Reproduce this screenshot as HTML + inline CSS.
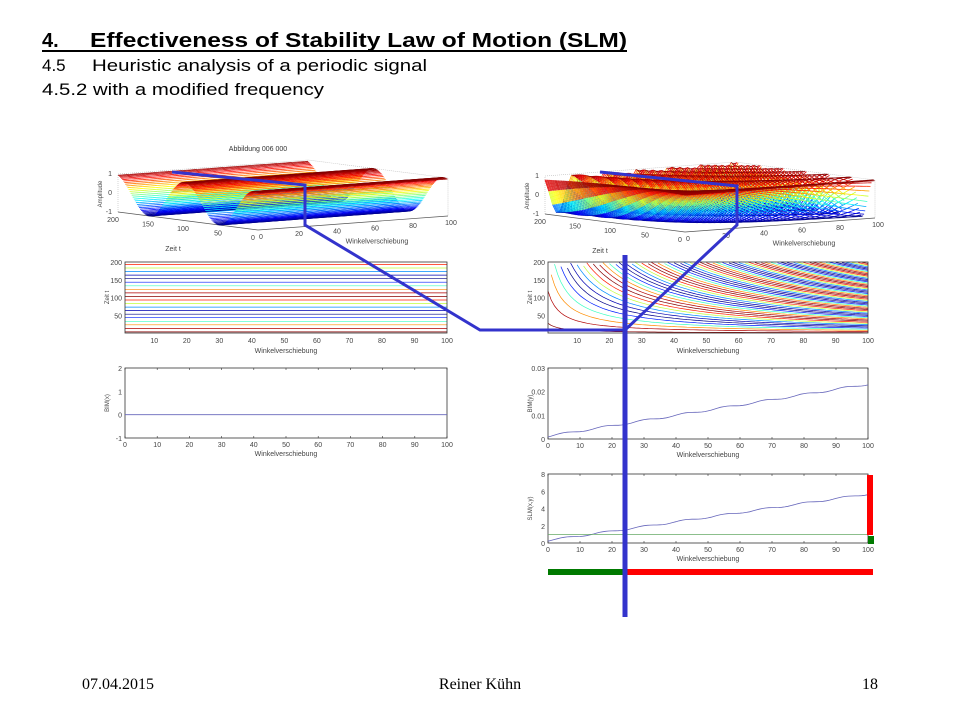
<!DOCTYPE html>
<html><head><meta charset="utf-8"><style>
body{margin:0;background:#fff;width:960px;height:720px;overflow:hidden}
svg{display:block}
.s{font-family:"Liberation Sans",Arial,sans-serif}
.f{font-family:"Liberation Serif",serif;font-size:16px}
</style></head><body>
<svg id="s" width="960" height="720" xmlns="http://www.w3.org/2000/svg">
<rect width="960" height="720" fill="#fff"/>
<g class="s">
<text x="42" y="47" font-size="20" font-weight="bold">4.</text>
<text x="90" y="47" font-size="20" font-weight="bold" textLength="537" lengthAdjust="spacingAndGlyphs">Effectiveness of Stability Law of Motion (SLM)</text>
<rect x="42" y="50" width="585" height="2" fill="#000"/>
<text x="42" y="71" font-size="17">4.5</text>
<text x="92" y="71" font-size="17" textLength="335" lengthAdjust="spacingAndGlyphs">Heuristic analysis of a periodic signal</text>
<text x="42" y="95" font-size="17" textLength="282" lengthAdjust="spacingAndGlyphs">4.5.2 with a modified frequency</text>
<text x="258" y="151" font-size="7" fill="#333" text-anchor="middle">Abbildung 006 000</text>
<g id="g"></g>
</g>
<text class="f" x="82" y="689">07.04.2015</text>
<text class="f" x="480" y="689" text-anchor="middle">Reiner Kühn</text>
<text class="f" x="862" y="689">18</text>
</svg>
<script>
var g=document.getElementById('g'),h=[];
function jet(v){v=Math.max(0,Math.min(1,v));function c(x){return Math.round(255*Math.max(0,Math.min(1,1.5-Math.abs(4*v-x))))}return 'rgb('+c(3)+','+c(2)+','+c(1)+')';}
function L(x1,y1,x2,y2,col,w){h.push('<line x1="'+x1.toFixed(1)+'" y1="'+y1.toFixed(1)+'" x2="'+x2.toFixed(1)+'" y2="'+y2.toFixed(1)+'" stroke="'+col+'" stroke-width="'+(w||1)+'"/>');}
function T(x,y,s,a,sz,rot){h.push('<text x="'+x+'" y="'+y+'" font-size="'+(sz||7)+'" fill="#444" text-anchor="'+(a||'middle')+'"'+(rot?' transform="rotate(-90 '+x+' '+y+')"':'')+'>'+s+'</text>');}
function surf(ox,oy,fr){
 function P(x,t,z){return [ox+1.9*x-0.7*t, oy-0.14*x-0.09*t-19*(z+1)];}
 var a=P(0,200,1),b=P(100,200,1),c=P(100,0,1);
 h.push('<polyline points="'+P(0,200,-1)+' '+a+' '+b+' '+c+' '+P(100,0,-1)+'" fill="none" stroke="#bbb" stroke-width="0.6" stroke-dasharray="1,1"/>');
 L(P(0,200,-1)[0],P(0,200,-1)[1],P(0,0,-1)[0],P(0,0,-1)[1],'#555',0.7);
 L(P(0,0,-1)[0],P(0,0,-1)[1],P(100,0,-1)[0],P(100,0,-1)[1],'#555',0.7);
 for(var t=200;t>=0;t-=1.5){
  for(var x=0;x<100;x+=2){
   var z=Math.sin(2*Math.PI*t*fr(x)+1.2);
   var p=P(x,t,z),q=P(x+2,t,Math.sin(2*Math.PI*t*fr(x+2)+1.2));
   L(p[0],p[1],q[0],q[1],jet((z+1)/2),0.8);
  }
 }
 var o=P(0,200,-1);T(o[0]-6,o[1]-36,'1','end');T(o[0]-6,o[1]-17,'0','end');T(o[0]-6,o[1]+2,'-1','end');
 T(o[0]-16,o[1]-18,'Amplitude','middle',6,1);
 [0,50,100,150,200].forEach(function(v){var p=P(0,v,-1);T(p[0]-5,p[1]+10,v);});
 [0,20,40,60,80,100].forEach(function(v){var p=P(v,0,-1);T(p[0]+3,p[1]+9,v);});
 var z1=P(0,100,-1);T(z1[0]-15,z1[1]+30,'Zeit t');var w=P(60,0,-1);T(w[0]+5,w[1]+22,'Winkelverschiebung');
}
function f2(x){return 0.0008+0.0003*x;}
surf(258,230,function(x){return 1/100});
surf(685,232,f2);
function contour(x0,y0,x1,y1,fr){
 h.push('<rect x="'+x0+'" y="'+y0+'" width="'+(x1-x0)+'" height="'+(y1-y0)+'" fill="#fff"/>');
 var sx=(x1-x0)/99,sy=(y1-y0)/200;
 for(var p=0.03;p<8;p+=0.1){
  var col=jet((Math.sin(2*Math.PI*p+1.2)+1)/2),pts=[];
  for(var x=1;x<=100;x+=1){var t=p/fr(x);if(t>200)continue;pts.push((x0+(x-1)*sx).toFixed(1)+','+(y1-t*sy).toFixed(1));}
  if(pts.length>1)h.push('<polyline points="'+pts.join(' ')+'" fill="none" stroke="'+col+'" stroke-width="0.7"/>');
 }
 h.push('<rect x="'+x0+'" y="'+y0+'" width="'+(x1-x0)+'" height="'+(y1-y0)+'" fill="none" stroke="#333" stroke-width="0.8"/>');
 for(var v=10;v<=100;v+=10){var X=x0+(v-1)*sx;T(X,y1+10,v);}
 [50,100,150,200].forEach(function(v){T(x0-3,y1-v*sy+3,v,'end');});
 T(x0-16,(y0+y1)/2,'Zeit t','middle',6,1);T((x0+x1)/2,y1+20,'Winkelverschiebung');
}
contour(125,262,447,333,function(x){return 1/100});
contour(548,262,868,333,f2);
function plot(x0,y0,x1,y1,ymin,ymax,yt,lab,fn,extra){
 h.push('<rect x="'+x0+'" y="'+y0+'" width="'+(x1-x0)+'" height="'+(y1-y0)+'" fill="#fff" stroke="#333" stroke-width="0.8"/>');
 function Y(v){return y1-(v-ymin)/(ymax-ymin)*(y1-y0);}
 for(var v=0;v<=100;v+=10){var X=x0+v/100*(x1-x0);T(X,y1+9,v);L(X,y1,X,y1-2,'#333',0.6);L(X,y0,X,y0+2,'#333',0.6);}
 yt.forEach(function(v){T(x0-3,Y(v)+3,v,'end');});
 T(x0-16,(y0+y1)/2,lab,'middle',6,1);T((x0+x1)/2,y1+18,'Winkelverschiebung');
 var pts=[];for(var x=0;x<=100;x++)pts.push((x0+x/100*(x1-x0)).toFixed(1)+','+Y(fn(x)).toFixed(1));
 h.push('<polyline points="'+pts.join(' ')+'" fill="none" stroke="#6666bb" stroke-width="0.8"/>');
 if(extra)h.push('<line x1="'+x0+'" y1="'+Y(extra)+'" x2="'+x1+'" y2="'+Y(extra)+'" stroke="#66aa66" stroke-width="0.8"/>');
}
plot(125,368,447,438,-1,2,[-1,0,1,2],'BIM(x)',function(x){return 0});
function wav(x){return 0.0012+0.00022*x+0.0004*Math.sin(2*Math.PI*x/12.5-1);}
plot(548,368,868,439,0,0.03,[0,0.01,0.02,0.03],'BIM(y)',wav);
plot(548,474,868,543,0,8,[0,2,4,6,8],'SLM(x,y)',function(x){return wav(x)*245},1);
h.push('<rect x="548" y="569" width="77" height="6" fill="#007a00"/>');
h.push('<rect x="625" y="569" width="248" height="6" fill="#f00"/>');
h.push('<rect x="867" y="475" width="6" height="60" fill="#f00"/>');
h.push('<rect x="868" y="536" width="6" height="8" fill="#007a00"/>');
h.push('<polyline points="172,172 305,185 305,225 480,330 625,330" fill="none" stroke="#3333cc" stroke-width="3"/>');
h.push('<polyline points="600,172 737,186 737,225 625,330" fill="none" stroke="#3333cc" stroke-width="3"/>');
h.push('<rect x="622.5" y="255" width="5" height="362" fill="#3333cc"/>');
g.innerHTML=h.join('');
</script>
</body></html>
